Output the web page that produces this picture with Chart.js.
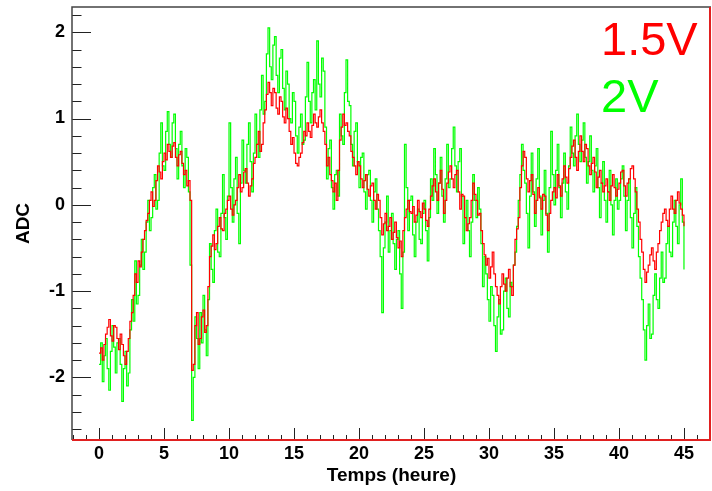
<!DOCTYPE html>
<html>
<head>
<meta charset="utf-8">
<script src="https://cdn.jsdelivr.net/npm/chart.js@4.4.1/dist/chart.umd.min.js"></script>
<style>
  html, body { margin: 0; padding: 0; background: #fff; }
  canvas { display: block; }
</style>
</head>
<body>
<canvas id="myChart" width="712" height="491"></canvas>
<script>
var startHour = 0;
var stepHour = 0.125;

// one line per hour, 8 readings each
var series15V = [
  -1.72, -1.66, -1.80, -1.62, -1.50, -1.42, -1.33, -1.52,
  -1.58, -1.40, -1.42, -1.55, -1.68, -1.50, -1.62, -1.75,
  -1.85, -1.70, -1.55, -1.35, -1.25, -1.05, -0.80, -0.90,
  -0.65, -0.72, -0.55, -0.40, -0.30, -0.18, -0.10, 0.05,
  0.15, -0.02, 0.05, 0.28, 0.45, 0.38, 0.30, 0.50,
  0.60, 0.52, 0.70, 0.62, 0.55, 0.68, 0.72, 0.55,
  0.45, 0.58, 0.62, 0.48, 0.35, 0.40, 0.22, 0.28,
  0.05, -1.92, -1.85, -1.40, -1.25, -1.62, -1.55, -1.30,
  -1.22, -1.48, -1.40, -0.95, -0.60, -0.48, -0.35, -0.52,
  -0.45, -0.25, -0.15, -0.28, -0.30, -0.10, -0.05, 0.05,
  0.10, -0.05, -0.12, 0.00, 0.05, 0.20, 0.35, 0.15,
  0.20, 0.38, 0.42, 0.25, 0.10, 0.22, 0.30, 0.48,
  0.55, 0.70, 0.85, 0.62, 0.70, 0.95, 1.10, 1.28,
  1.42, 1.30, 1.15, 1.35, 1.30, 1.12, 1.05, 1.25,
  1.20, 1.02, 0.95, 1.12, 1.00, 0.85, 0.70, 0.78,
  0.60, 0.48, 0.45, 0.55, 0.60, 0.72, 0.85, 0.80,
  0.95, 0.85, 0.78, 0.92, 1.05, 0.95, 0.90, 1.02,
  1.10, 0.95, 0.85, 0.70, 0.45, 0.55, 0.35, 0.28,
  0.15, 0.25, 0.05, 0.40, 0.75, 0.90, 1.05, 0.92,
  0.95, 0.85, 0.80, 0.62, 0.55, 0.45, 0.35, 0.50,
  0.45, 0.30, 0.20, 0.28, 0.35, 0.18, 0.10, 0.22,
  0.25, 0.05, -0.05, 0.12, 0.05, -0.15, -0.35, -0.22,
  -0.10, -0.30, -0.25, -0.15, -0.40, -0.32, -0.20, -0.38,
  -0.50, -0.42, -0.60, -0.30, -0.15, -0.05, 0.05, -0.08,
  -0.10, -0.02, -0.20, -0.12, 0.05, -0.08, -0.15, 0.02,
  -0.05, -0.18, -0.25, -0.05, 0.10, 0.22, 0.30, 0.15,
  0.05, 0.25, 0.40, 0.18, -0.10, 0.05, 0.25, 0.38,
  0.45, 0.30, 0.20, 0.35, 0.40, 0.15, -0.05, 0.12,
  0.10, -0.15, -0.30, -0.22, -0.15, 0.05, 0.25, 0.12,
  0.05, -0.12, -0.10, -0.30, -0.45, -0.58, -0.70, -0.62,
  -0.85, -0.72, -0.55, -0.80, -0.95, -1.05, -1.15, -0.95,
  -0.80, -0.92, -1.00, -0.85, -0.75, -0.95, -1.05, -0.70,
  -0.40, -0.28, -0.15, 0.20, 0.45, 0.62, 0.55, 0.30,
  0.15, 0.28, 0.35, 0.12, -0.10, 0.05, 0.20, 0.08,
  -0.05, 0.12, 0.10, -0.12, -0.30, -0.10, 0.05, 0.15,
  0.20, 0.08, 0.35, 0.22, 0.10, 0.30, 0.45, 0.32,
  0.25, 0.42, 0.55, 0.68, 0.75, 0.55, 0.40, 0.62,
  0.80, 0.62, 0.50, 0.70, 0.65, 0.45, 0.35, 0.48,
  0.55, 0.38, 0.20, 0.32, 0.40, 0.25, 0.15, 0.22,
  0.30, 0.15, 0.05, 0.22, 0.35, 0.20, 0.10, 0.18,
  0.25, 0.38, 0.40, 0.22, 0.10, 0.25, 0.30, 0.42,
  0.45, 0.30, 0.15, -0.05, -0.20, -0.40, -0.55, -0.75,
  -0.90, -0.78, -0.70, -0.58, -0.50, -0.65, -0.75, -0.55,
  -0.45, -0.30, -0.20, -0.10, -0.05, -0.18, -0.25, -0.05,
  0.10, -0.05, -0.10, 0.05, 0.15, 0.02, -0.05, -0.12,
  -0.25
];

var series2V = [
  -1.85, -1.60, -2.05, -1.75, -1.55, -1.90, -2.15, -1.70,
  -1.40, -1.65, -1.95, -1.60, -1.55, -1.85, -2.28, -1.90,
  -1.70, -2.10, -1.95, -1.45, -1.10, -1.35, -0.65, -1.15,
  -1.05, -0.70, -0.40, -0.75, -0.55, -0.20, 0.05, -0.30,
  -0.15, 0.20, 0.35, -0.05, 0.05, 0.60, 0.95, 0.45,
  0.40, 0.85, 1.08, 0.70, 0.55, 0.95, 1.05, 0.65,
  0.30, 0.70, 0.85, 0.45, 0.20, 0.65, 0.55, 0.15,
  -0.70, -2.50, -2.00, -1.30, -1.55, -1.90, -1.25, -1.60,
  -1.05, -1.45, -1.75, -1.10, -0.45, -0.75, -0.90, -0.30,
  -0.05, -0.55, -0.60, -0.10, 0.35, -0.15, -0.40, 0.10,
  0.95, 0.20, -0.20, 0.30, 0.55, -0.10, -0.45, 0.25,
  0.75, 0.40, 0.25, 0.70, 0.95, 0.50, 0.15, 0.60,
  1.05, 0.70, 0.55, 1.10, 1.50, 1.05, 1.20, 1.75,
  2.05, 1.60, 1.45, 1.85, 1.95, 1.50, 1.30, 1.70,
  1.80, 1.35, 1.10, 1.55, 1.40, 1.00, 0.95, 1.30,
  1.20, 0.80, 0.60, 0.90, 1.05, 0.70, 0.75, 1.25,
  1.65, 1.20, 0.95, 1.30, 1.45, 1.10, 1.90, 1.40,
  1.25, 1.70, 1.55, 0.90, 0.30, 0.65, 0.75, 0.20,
  -0.05, 0.35, 0.40, 0.10, 1.05, 0.80, 0.70, 1.30,
  1.68, 1.20, 1.15, 0.70, 0.45, 0.85, 0.95, 0.50,
  0.20, 0.55, 0.60, 0.15, -0.05, 0.35, 0.40, 0.05,
  -0.20, 0.15, 0.30, -0.05, -0.30, -0.60, -1.25, -0.50,
  -0.20, 0.10, -0.55, -0.30, -0.10, -0.45, -0.75, -0.40,
  -0.30, -0.80, -1.20, -0.55, 0.70, 0.20, -0.30, 0.05,
  0.10, -0.35, -0.60, -0.20, -0.05, -0.40, -0.45, -0.10,
  0.05, -0.30, -0.65, -0.15, 0.30, 0.05, 0.65, 0.35,
  -0.10, 0.25, 0.55, 0.10, -0.20, 0.30, 0.70, 0.20,
  0.30, 0.65, 0.90, 0.45, 0.15, 0.50, 0.65, 0.10,
  -0.45, -0.15, 0.05, -0.30, -0.60, -0.20, 0.35, 0.05,
  -0.15, 0.20, -0.05, -0.45, -0.95, -0.60, -0.80, -1.10,
  -1.35, -0.95, -1.05, -1.40, -1.70, -1.30, -1.10, -1.50,
  -1.45, -1.00, -0.85, -1.20, -1.30, -0.90, -0.95, -0.70,
  -0.55, -0.25, 0.05, 0.35, 0.70, 0.40, 0.25, -0.10,
  -0.50, 0.10, 0.60, 0.15, -0.25, 0.30, 0.65, 0.10,
  -0.35, 0.05, 0.40, -0.10, -0.55, 0.20, 0.85, 0.35,
  0.00, 0.40, 0.70, 0.20, -0.15, 0.25, 0.60, 0.15,
  -0.05, 0.45, 0.90, 0.60, 0.45, 0.80, 1.05, 0.70,
  0.50, 0.75, 0.95, 0.55, 0.25, 0.50, 0.80, 0.40,
  0.15, 0.45, 0.65, 0.20, -0.15, 0.25, 0.50, 0.05,
  -0.20, 0.15, 0.40, 0.00, -0.35, 0.05, 0.30, -0.05,
  0.05, 0.30, 0.45, 0.10, -0.30, 0.05, 0.30, -0.15,
  -0.50, -0.10, 0.20, -0.25, -0.60, -0.85, -1.10, -1.45,
  -1.80, -1.40, -1.15, -1.55, -1.50, -1.05, -0.80, -1.10,
  -1.20, -0.85, -0.55, -0.90, -0.85, -0.45, -0.25, -0.55,
  -0.60, -0.20, 0.05, -0.25, -0.45, 0.00, 0.30, -0.20,
  -0.75
];

var legendLabels = ['1.5V', '2V'];
var legendColors = ['#ff0000', '#00ff00'];

function toPoints(values) {
  return values.map(function(v, i) {
    return { x: startHour + i * stepHour, y: v };
  });
}

var rootFrame = {
  id: 'rootFrame',
  afterDraw: function(chart) {
    var ctx = chart.ctx;
    var a = chart.chartArea;
    var x = chart.scales.x;
    var y = chart.scales.y;
    ctx.save();

    ctx.strokeStyle = '#222';
    ctx.lineWidth = 1;
    ctx.beginPath();
    for (var k = -13; k <= 11; k++) {
      var py = Math.round(y.getPixelForValue(k / 5)) + 0.5;
      var len = (k % 5 === 0) ? 19 : 9.5;
      ctx.moveTo(a.left, py);
      ctx.lineTo(a.left + len, py);
    }
    for (var h = -2; h <= 47; h++) {
      var px = Math.round(x.getPixelForValue(h)) + 0.5;
      var tl = (h % 5 === 0) ? 12 : 5;
      ctx.moveTo(px, a.bottom);
      ctx.lineTo(px, a.bottom - tl);
    }
    ctx.stroke();

    ctx.strokeStyle = '#444';
    ctx.lineWidth = 1.5;
    ctx.beginPath();
    ctx.moveTo(a.left, a.bottom);
    ctx.lineTo(a.left, a.top);
    ctx.lineTo(a.right, a.top);
    ctx.stroke();

    ctx.strokeStyle = '#e02020';
    ctx.lineWidth = 2;
    ctx.beginPath();
    ctx.moveTo(a.left, a.bottom);
    ctx.lineTo(a.right - 1, a.bottom);
    ctx.lineTo(a.right - 1, a.top);
    ctx.stroke();

    ctx.font = '47px "Liberation Sans", Arial, sans-serif';
    ctx.textAlign = 'left';
    ctx.textBaseline = 'alphabetic';
    ctx.fillStyle = legendColors[0];
    ctx.fillText(legendLabels[0], 601, 55);
    ctx.fillStyle = legendColors[1];
    ctx.fillText(legendLabels[1], 601, 112);
    ctx.restore();
  }
};

function chart() {
  var ctx = document.getElementById('myChart');
  var tickFont = { family: '"Liberation Sans", Arial, sans-serif', size: 18, weight: 'bold' };
  var titleFont = { family: '"Liberation Sans", Arial, sans-serif', size: 19, weight: 'bold' };
  var myChart = new Chart(ctx, {
    type: 'line',
    data: {
      datasets: [
        {
          label: legendLabels[0],
          data: toPoints(series15V),
          borderColor: legendColors[0],
          borderWidth: 1.2,
          stepped: true,
          pointRadius: 0,
          fill: false
        },
        {
          label: legendLabels[1],
          data: toPoints(series2V),
          borderColor: legendColors[1],
          borderWidth: 1.2,
          stepped: true,
          pointRadius: 0,
          fill: false
        }
      ]
    },
    options: {
      responsive: false,
      animation: false,
      devicePixelRatio: 1,
      layout: { padding: { left: 0, right: 1, top: 7, bottom: 0 } },
      plugins: {
        legend: { display: false },
        tooltip: { enabled: false }
      },
      scales: {
        x: {
          type: 'linear',
          min: -2.08,
          max: 47.08,
          afterFit: function(scale) {
            scale.height = 51;
            scale.paddingLeft = 0;
            scale.paddingRight = 0;
          },
          grid: { display: false, drawTicks: false },
          border: { display: false },
          ticks: {
            stepSize: 5,
            includeBounds: false,
            autoSkip: false,
            maxRotation: 0,
            padding: 3,
            color: '#000',
            font: tickFont
          },
          title: {
            display: true,
            text: 'Temps (heure)',
            color: '#000',
            font: titleFont,
            padding: { top: 0, bottom: 4 }
          }
        },
        y: {
          min: -2.727,
          max: 2.293,
          afterFit: function(scale) {
            scale.width = 72;
            scale.paddingTop = 0;
            scale.paddingBottom = 0;
          },
          grid: { display: false, drawTicks: false },
          border: { display: false },
          ticks: {
            stepSize: 1,
            includeBounds: false,
            autoSkip: false,
            padding: 7,
            color: '#000',
            font: tickFont
          },
          title: {
            display: true,
            text: 'ADC',
            color: '#000',
            font: titleFont,
            padding: { top: 12, bottom: 0 }
          }
        }
      }
    },
    plugins: [rootFrame]
  });
}

chart();
</script>
</body>
</html>
